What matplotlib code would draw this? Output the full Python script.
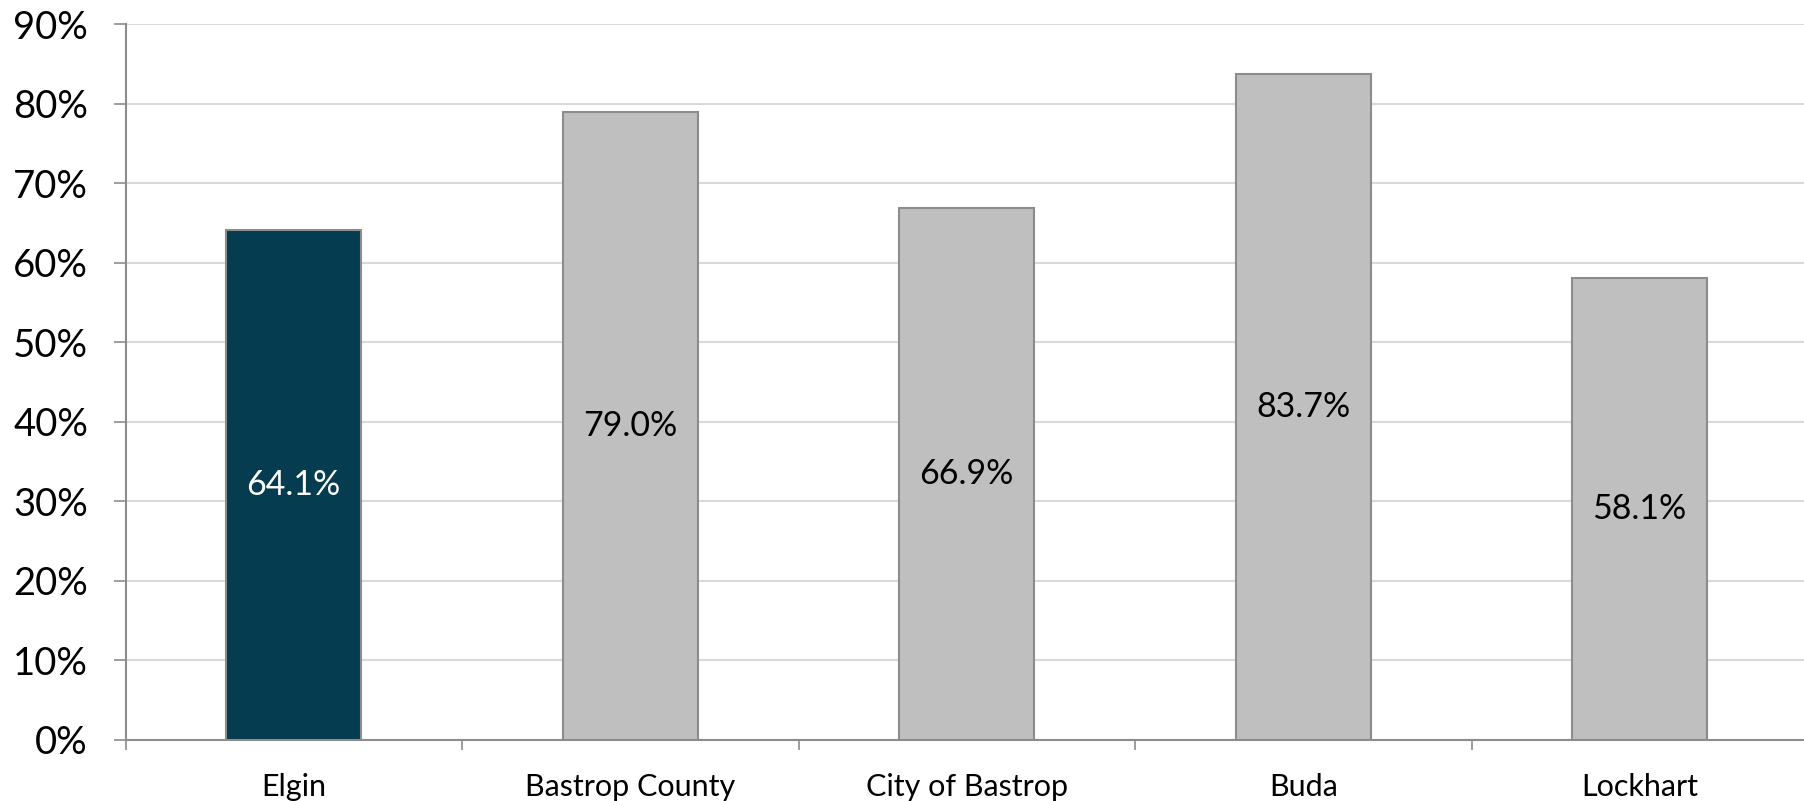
import matplotlib
matplotlib.use("Agg")
import matplotlib.pyplot as plt
import numpy as np

categories = ["Elgin", "Bastrop County", "City of Bastrop", "Buda", "Lockhart"]
values = [64.1, 79.0, 66.9, 83.7, 58.1]
bar_colors = ["#053C50", "#BFBFBF", "#BFBFBF", "#BFBFBF", "#BFBFBF"]
label_colors = ["white", "black", "black", "black", "black"]
yticks = [0, 10, 20, 30, 40, 50, 60, 70, 80, 90]

plt.rcParams['font.family'] = ['Lato', 'DejaVu Sans']

fig = plt.figure(figsize=(18.04, 8.01), dpi=100)
ax = fig.add_axes([125.5/1804, 1-740/801, 1-125.5/1804, (740-24)/801])

x = np.arange(len(categories))
bars = ax.bar(x, values, width=0.4, color=bar_colors, edgecolor="#8C8C8C", linewidth=1.5, zorder=3)
for xi, v, c in zip(x, values, label_colors):
    ax.text(xi, v/2, f"{v:.1f}%", ha="center", va="center", color=c, fontsize=24.5, zorder=4)

ax.set_xlim(-0.5, -0.5 + (1804-125.5)/336.5)
ax.set_ylim(0, 90)
ax.set_yticks(yticks)
ax.set_yticklabels([f"{t}%" for t in yticks], fontsize=27.5)
ax.set_xticks(x)
ax.set_xticklabels(categories, fontsize=22)
ax.set_xticks(np.arange(len(categories)) - 0.5, minor=True)
ax.tick_params(axis="x", which="major", length=0, pad=24)
ax.tick_params(axis="x", which="minor", length=7, color="#8C8C8C", width=1.2)
ax.tick_params(axis="y", length=9, color="#8C8C8C", width=1.2, pad=18)
ax.yaxis.grid(True, color="#D9D9D9", linewidth=1.5, zorder=0)
ax.set_axisbelow(True)
for s in ["top", "right"]:
    ax.spines[s].set_visible(False)
for s in ["left", "bottom"]:
    ax.spines[s].set_color("#8C8C8C")
    ax.spines[s].set_linewidth(1.5)

fig.savefig("out.png", dpi=100)
